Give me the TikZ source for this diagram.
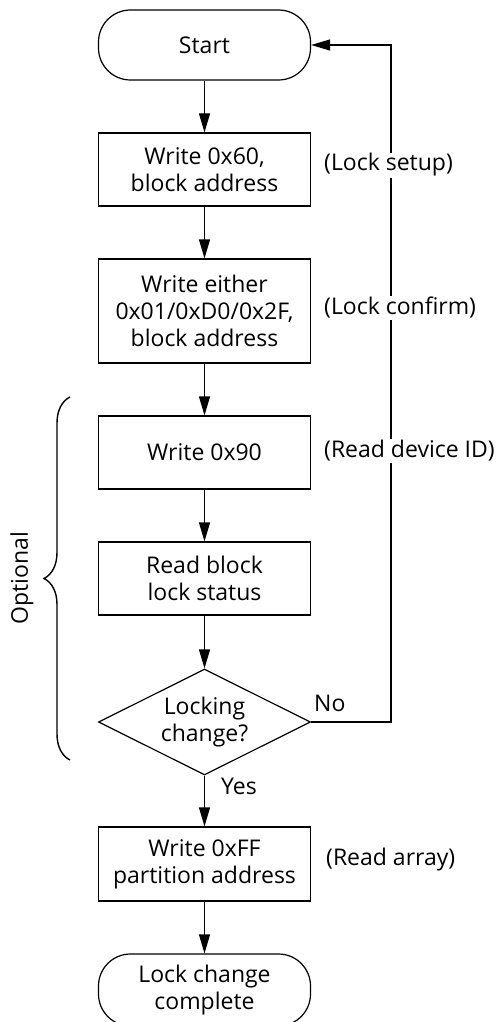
\documentclass[tikz,border=0pt]{standalone}
\usepackage{fontspec}
\setmainfont{Open Sans}
\usetikzlibrary{shapes.geometric,arrows.meta,decorations.pathreplacing}
\begin{document}
\begin{tikzpicture}[x=1pt,y=-1pt,
  every node/.style={font=\fontsize{23}{27}\selectfont, text=black},
  proc/.style={draw, line width=1.2pt, minimum width=212pt, inner sep=0pt, align=center},
  term/.style={draw, line width=1.2pt, minimum width=212pt, inner sep=0pt, align=center, rounded corners=32pt},
  dec/.style={draw, diamond, aspect=2, line width=1.2pt, minimum width=212pt, minimum height=106pt, inner sep=0pt, align=center},
  conn/.style={line width=1.2pt, -{Triangle[length=19pt,width=11pt]}},
  note/.style={anchor=west, fill=white, inner sep=1pt},
  lbl/.style={anchor=west, inner sep=0pt}]
\useasboundingbox (0,0) rectangle (500,1022);
\node[term, minimum height=70pt] (start) at (204.5,45) {Start};
\node[proc, minimum height=73pt] (b1) at (204.5,169.5) {Write 0x60,\\block address};
\node[proc, minimum height=104pt] (b2) at (204.5,311) {Write either\\0x01/0xD0/0x2F,\\block address};
\node[proc, minimum height=73pt] (b3) at (204.5,452.5) {Write 0x90};
\node[proc, minimum height=73pt] (b4) at (204.5,578.5) {Read block\\lock status};
\node[dec] (dia) at (204.5,722) {Locking\\change?};
\node[proc, minimum height=74pt] (b5) at (204.5,864) {Write 0xFF\\partition address};
\node[term, minimum height=72pt] (end) at (204.5,990) {Lock change\\complete};

\draw[conn] (start) -- (b1);
\draw[conn] (b1) -- (b2);
\draw[conn] (b2) -- (b3);
\draw[conn] (b3) -- (b4);
\draw[conn] (b4) -- (dia);
\draw[conn] (dia) -- (b5);
\draw[conn] (b5) -- (end);
\coordinate (fb) at (391,722);
\draw[conn] (dia.east) -- (fb) |- (start.east);

\node[note] (n1) at (323,165) {(Lock setup)};
\node[note] (n2) at (323,308) {(Lock confirm)};
\node[note] (n3) at (323,451) {(Read device ID)};
\node[note] (n4) at (325,860) {(Read array)};
\node[lbl] (no) at (314,703) {No};
\node[lbl] (yes) at (221,786) {Yes};

\coordinate (bt) at (70,397);
\coordinate (bb) at (70,760);
\draw[line width=1.4pt, decorate, decoration={brace, amplitude=26pt}] (bb) -- (bt);
\node[rotate=90] (opt) at (22,578) {Optional};
\end{tikzpicture}
\end{document}
